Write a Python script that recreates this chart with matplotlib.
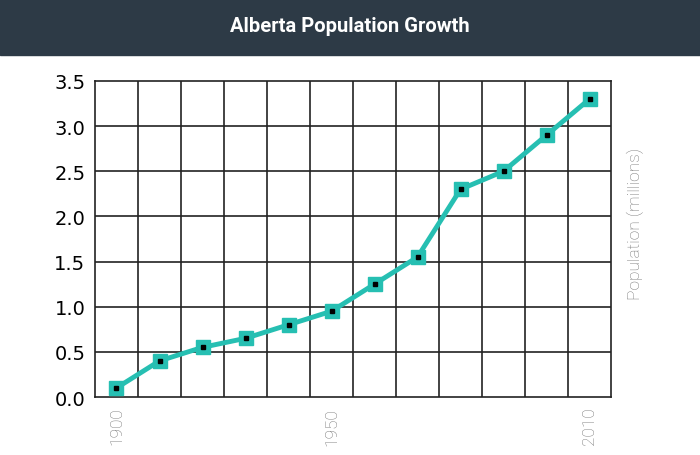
import matplotlib
matplotlib.use("Agg")
import matplotlib.pyplot as plt
from matplotlib.patches import Rectangle

years = [1900, 1910, 1920, 1930, 1940, 1950, 1960, 1970, 1980, 1990, 2000, 2010]
population = [0.1, 0.4, 0.55, 0.65, 0.8, 0.95, 1.25, 1.55, 2.3, 2.5, 2.9, 3.3]
shown_years = [1900, 1950, 2010]
y_ticks = [0.0, 0.5, 1.0, 1.5, 2.0, 2.5, 3.0, 3.5]

fig = plt.figure(figsize=(7, 4.56), dpi=100)
fig.patches.append(Rectangle((0, 1 - 56 / 456), 1, 56 / 456, transform=fig.transFigure,
                             color="#2d3a46", zorder=0))
fig.text(0.5, 1 - 26 / 456, "Alberta Population Growth", ha="center", va="center",
         color="white", fontsize=14.5, fontweight="bold", family="Roboto")

ax = fig.add_axes([95 / 700, 1 - 398 / 456, (611 - 95) / 700, (398 - 82) / 456])
idx = list(range(len(years)))
ax.set_xlim(-0.5, len(years) - 0.5)
ax.set_ylim(0, 3.5)

grid_color = "#222222"
for i in range(1, len(years)):
    ax.axvline(i - 0.5, color=grid_color, lw=1.2, zorder=1)
for y in y_ticks[1:-1]:
    ax.axhline(y, color=grid_color, lw=1.2, zorder=1)
for s in ax.spines.values():
    s.set_color(grid_color)
    s.set_linewidth(1.2)

ax.plot(idx, population, color="#26bfb2", lw=3.5, zorder=3, solid_capstyle="round")
ax.plot(idx, population, "s", ms=10, mfc="#26bfb2", mec="#26bfb2", zorder=4)
ax.plot(idx, population, "s", ms=2.5, mfc="black", mec="black", zorder=5)

ax.set_yticks(y_ticks)
ax.set_yticklabels([f"{v:.1f}" for v in y_ticks], fontsize=14, color="black")
ax.tick_params(axis="y", length=0, pad=7)

ax.set_xticks([years.index(y) for y in shown_years])
ax.set_xticklabels([str(y) for y in shown_years], rotation=90, fontsize=12.5,
                   color="#777777", family="Roboto", fontweight="light")
ax.tick_params(axis="x", length=0, pad=7)

ax.yaxis.set_label_position("right")
ax.set_ylabel("Population (millions)", fontsize=12.5, color="#777777",
              family="Roboto", fontweight="light")
ax.yaxis.set_label_coords(1.03, (398 - 224) / 316)

fig.savefig("out.png", dpi=100)
